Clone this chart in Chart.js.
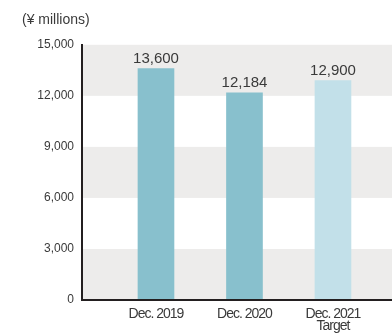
<!DOCTYPE html>
<html>
<head>
<meta charset="utf-8">
<script src="https://cdn.jsdelivr.net/npm/chart.js@4/dist/chart.umd.min.js"></script>
<style>
  html, body { margin: 0; padding: 0; background: #ffffff; overflow: hidden; }
  #wrap { width: 392px; height: 336px; position: relative; }
</style>
</head>
<body>
<div id="wrap"><canvas id="c"></canvas></div>
<script>
// ---- data ----
const categories = [["Dec. 2019"], ["Dec. 2020"], ["Dec. 2021", "Target"]];
const values = [13600, 12184, 12900];
const valueLabels = ["13,600", "12,184", "12,900"];
const barColors = ["#88c0cd", "#88c0cd", "#c2e0e9"];
const yTicks = [0, 3000, 6000, 9000, 12000, 15000];
const yTickLabels = ["0", "3,000", "6,000", "9,000", "12,000", "15,000"];
const unitLabel = "(¥ millions)";

const TEXT = "#3a3a3a";
const BAND = "#edeceb";
const AXIS = "#231f20";

const bandsPlugin = {
  id: "bands",
  beforeDraw(chart) {
    const { ctx, chartArea } = chart;
    const y = chart.scales.y;
    ctx.save();
    ctx.fillStyle = BAND;
    for (let i = 0; i < yTicks.length - 1; i += 2) {
      const top = y.getPixelForValue(yTicks[i + 1]);
      const bot = y.getPixelForValue(yTicks[i]);
      ctx.fillRect(chartArea.left, top, chartArea.right - chartArea.left, bot - top);
    }
    ctx.restore();
  }
};

const valueLabelPlugin = {
  id: "valueLabels",
  afterDatasetsDraw(chart) {
    const { ctx } = chart;
    const meta = chart.getDatasetMeta(0);
    ctx.save();
    ctx.fillStyle = TEXT;
    ctx.font = "15px 'Liberation Sans', Arial, sans-serif";
    ctx.textAlign = "center";
    ctx.textBaseline = "alphabetic";
    meta.data.forEach((bar, i) => {
      ctx.fillText(valueLabels[i], bar.x, bar.y - 6);
    });
    ctx.restore();
    // condensed tracking for the x-axis labels (drawn after datasets, z = 1)
    if ("letterSpacing" in ctx) ctx.letterSpacing = "-1px";
  },
  afterDraw(chart) {
    if ("letterSpacing" in chart.ctx) chart.ctx.letterSpacing = "0px";
  }
};

new Chart(document.getElementById("c"), {
  type: "bar",
  data: {
    datasets: [{
      data: values.map((v, i) => ({ x: i + 1, y: v })),
      backgroundColor: barColors,
      borderWidth: 0,
      barThickness: 36
    }]
  },
  options: {
    responsive: true,
    maintainAspectRatio: false,
    animation: false,
    layout: { padding: { left: 22, right: 0, top: 0, bottom: 0 } },
    plugins: {
      legend: { display: false },
      tooltip: { enabled: false },
      title: {
        display: true,
        text: unitLabel,
        align: "start",
        color: TEXT,
        font: { family: "'Liberation Sans', Arial, sans-serif", size: 14, weight: "normal" },
        padding: { top: 12, bottom: 16 }
      }
    },
    scales: {
      x: {
        type: "linear",
        offset: false,
        min: 0.164,
        max: 3.667,
        afterFit: (s) => { s.height = 36; },
        grid: { display: false, drawTicks: false, offset: false },
        border: { display: true, color: AXIS, width: 2, z: 1 },
        ticks: {
          z: 1,
          stepSize: 1,
          includeBounds: false,
          autoSkip: false,
          maxRotation: 0,
          padding: 8,
          color: TEXT,
          font: { family: "'Liberation Sans', Arial, sans-serif", size: 14, lineHeight: 0.86 },
          callback: (v) => Number.isInteger(v) && categories[v - 1] ? categories[v - 1] : ""
        }
      },
      y: {
        min: 0,
        max: 15000,
        afterFit: (s) => { s.width = 60; },
        grid: { display: false, drawTicks: false },
        border: { display: true, color: AXIS, width: 2 },
        afterBuildTicks: (s) => { s.ticks = yTicks.map(v => ({ value: v })); },
        ticks: {
          padding: 8,
          color: TEXT,
          font: { family: "'Liberation Sans', Arial, sans-serif", size: 12 },
          callback: (v) => yTickLabels[yTicks.indexOf(v)]
        }
      }
    }
  },
  plugins: [bandsPlugin, valueLabelPlugin]
});
</script>
</body>
</html>
